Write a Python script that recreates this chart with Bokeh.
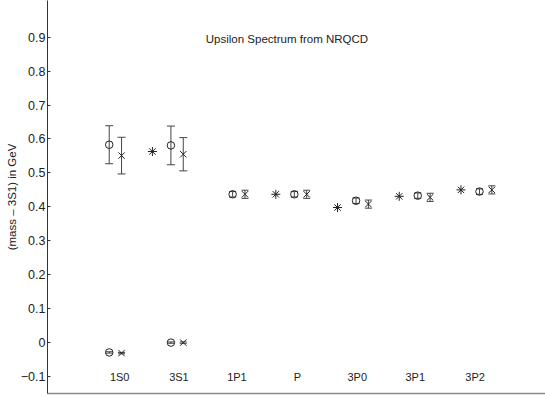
from bokeh.plotting import figure
from bokeh.models import ColumnDataSource, Whisker, TeeHead, Label, FixedTicker, Range1d
from bokeh.embed import file_html
from bokeh.resources import INLINE

# ---- data ----
states = ["1S0", "3S1", "1P1", "P", "3P0", "3P1", "3P2"]
# x positions of the state labels along the axis
state_label_x = [1.17, 2.13, 3.07, 4.05, 5.02, 5.96, 6.93]
# NRQCD set A (circles)
set_a = [-0.029, 0.000, 0.437, 0.437, 0.418, 0.433, 0.445]
set_a_err = [0.002, 0.002, 0.008, 0.008, 0.008, 0.008, 0.008]
# NRQCD set B (crosses)
set_b = [-0.031, 0.000, 0.437, 0.437, 0.408, 0.428, 0.450]
set_b_err = [0.002, 0.002, 0.012, 0.012, 0.012, 0.012, 0.012]
# radially excited (2S) states, shown in the 1S0 and 3S1 columns
excited_states = ["1S0", "3S1"]
excited_a = [0.583, 0.581]
excited_a_err = [0.056, 0.057]
excited_b = [0.551, 0.555]
excited_b_err = [0.054, 0.049]
# experiment (asterisks)
exp_states = ["3S1", "P", "3P0", "3P1", "3P2"]
exp_vals = [0.563, 0.437, 0.398, 0.431, 0.450]

y_ticks = [-0.1, 0, 0.1, 0.2, 0.3, 0.4, 0.5, 0.6, 0.7, 0.8, 0.9]
y_tick_labels = ["\u22120.1", "0", "0.1", "0.2", "0.3", "0.4", "0.5", "0.6", "0.7", "0.8", "0.9"]

FONT = "Liberation Sans"
INK = "#222222"

pos = {s: i + 1 for i, s in enumerate(states)}

p = figure(width=545, height=397, output_backend="svg", toolbar_location=None,
           x_range=Range1d(0, 8.07), y_range=Range1d(-0.150, 1.008),
           min_border_left=47, min_border_right=0, min_border_top=0, min_border_bottom=4)
p.outline_line_color = None
p.xgrid.visible = False
p.ygrid.visible = False

# y axis
p.yaxis.ticker = FixedTicker(ticks=y_ticks)
p.yaxis.major_label_overrides = dict(zip(y_ticks, y_tick_labels))
p.yaxis.minor_tick_line_color = None
p.yaxis.major_tick_in = 3
p.yaxis.major_tick_out = 0
p.yaxis.major_label_standoff = 2
p.yaxis.major_label_text_font = FONT
p.yaxis.major_label_text_font_size = "12.5px"
p.yaxis.major_label_text_color = INK
p.yaxis.axis_line_color = "#333333"
p.yaxis.major_tick_line_color = "#333333"
p.yaxis.axis_label = "(mass \u2013 3S1) in GeV"
p.yaxis.axis_label_text_font = FONT
p.yaxis.axis_label_text_font_style = "normal"
p.yaxis.axis_label_text_font_size = "11.5px"
p.yaxis.axis_label_text_color = INK
p.yaxis.axis_label_standoff = 0

# x axis: plain line only
p.xaxis.ticker = FixedTicker(ticks=[])
p.xaxis.major_label_text_font_size = "0px"
p.xaxis.major_tick_out = 0
p.xaxis.major_tick_in = 0
p.xaxis.minor_tick_line_color = None
p.xaxis.major_label_standoff = 0
p.xaxis.axis_line_color = "#888888"
p.xaxis.axis_line_width = 1.5


def errbars(xs, ys, errs, head):
    src = ColumnDataSource(dict(x=xs, lo=[y - e for y, e in zip(ys, errs)],
                                hi=[y + e for y, e in zip(ys, errs)]))
    w = Whisker(source=src, base="x", lower="lo", upper="hi", line_color="#444444", line_width=1,
                upper_head=TeeHead(size=head, line_color="#444444", line_width=1),
                lower_head=TeeHead(size=head, line_color="#444444", line_width=1))
    p.add_layout(w)


xa = [pos[s] for s in states]
xb = [pos[s] + 0.2 for s in states]
xea = [pos[s] for s in excited_states]
xeb = [pos[s] + 0.2 for s in excited_states]
xexp = [pos[s] - 0.3 for s in exp_states]

errbars(xa, set_a, set_a_err, 7)
errbars(xb, set_b, set_b_err, 7)
errbars(xea, excited_a, excited_a_err, 8)
errbars(xeb, excited_b, excited_b_err, 8)

p.scatter(xa, set_a, marker="circle", size=7.5, fill_color=None, line_color=INK, line_width=1)
p.scatter(xea, excited_a, marker="circle", size=7.5, fill_color=None, line_color=INK, line_width=1)
p.scatter(xb, set_b, marker="x", size=9, line_color=INK, line_width=1)
p.scatter(xeb, excited_b, marker="x", size=9, line_color=INK, line_width=1)
p.scatter(xexp, exp_vals, marker="asterisk", size=9, line_color=INK, line_width=1)

# state labels
lab_src = ColumnDataSource(dict(x=state_label_x, y=[-0.1] * len(states), t=states))
p.text(x="x", y="y", text="t", source=lab_src, text_align="center", text_baseline="middle",
       text_font_size="11px", text_color=INK, text_font={"value": FONT})

p.add_layout(Label(x=3.88, y=0.895, text="Upsilon Spectrum from NRQCD", text_align="center",
                   text_baseline="middle", text_font=FONT, text_font_size="11.5px", text_color=INK))

open("out.html", "w").write(file_html(p, INLINE))
